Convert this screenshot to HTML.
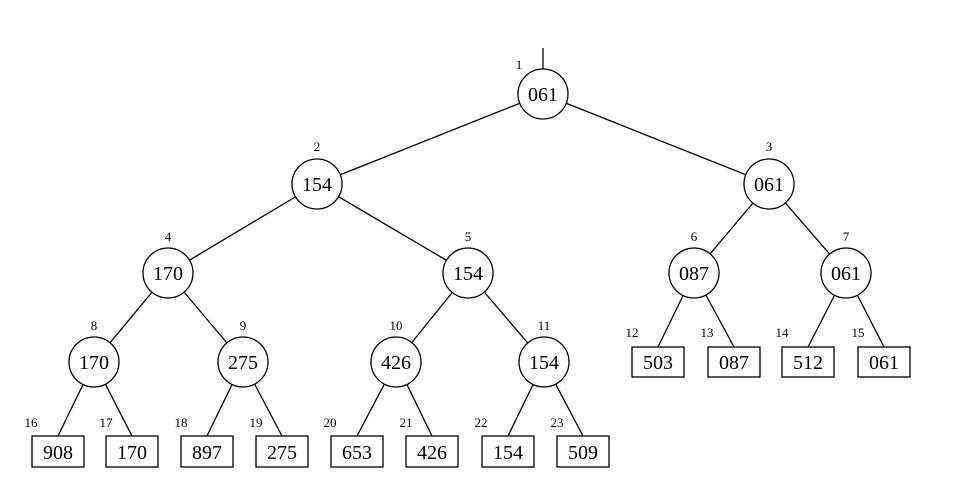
<!DOCTYPE html>
<html><head><meta charset="utf-8"><style>body{margin:0;background:#fff}svg{display:block}</style></head><body>
<svg width="960" height="492" viewBox="0 0 960 492" xmlns="http://www.w3.org/2000/svg" font-family="Liberation Serif, serif">
<g stroke="#000" stroke-width="1.3" fill="none">
<line x1="543" y1="48" x2="543" y2="70"/>
<line x1="543" y1="94" x2="317" y2="184"/>
<line x1="543" y1="94" x2="769" y2="184"/>
<line x1="317" y1="184" x2="168" y2="273"/>
<line x1="317" y1="184" x2="468" y2="273"/>
<line x1="769" y1="184" x2="694" y2="273"/>
<line x1="769" y1="184" x2="846" y2="273"/>
<line x1="168" y1="273" x2="94" y2="362"/>
<line x1="168" y1="273" x2="243" y2="362"/>
<line x1="468" y1="273" x2="396" y2="362"/>
<line x1="468" y1="273" x2="544" y2="362"/>
<line x1="694" y1="273" x2="658" y2="347"/>
<line x1="694" y1="273" x2="734" y2="347"/>
<line x1="846" y1="273" x2="808" y2="347"/>
<line x1="846" y1="273" x2="884" y2="347"/>
<line x1="94" y1="362" x2="58" y2="436"/>
<line x1="94" y1="362" x2="132" y2="436"/>
<line x1="243" y1="362" x2="207" y2="436"/>
<line x1="243" y1="362" x2="282" y2="436"/>
<line x1="396" y1="362" x2="357" y2="436"/>
<line x1="396" y1="362" x2="432" y2="436"/>
<line x1="544" y1="362" x2="508" y2="436"/>
<line x1="544" y1="362" x2="583" y2="436"/>
</g>
<g stroke="#000" stroke-width="1.3" fill="#fff">
<circle cx="543" cy="94" r="25"/><circle cx="317" cy="184" r="25"/><circle cx="769" cy="184" r="25"/>
<circle cx="168" cy="273" r="25"/><circle cx="468" cy="273" r="25"/><circle cx="694" cy="273" r="25"/><circle cx="846" cy="273" r="25"/>
<circle cx="94" cy="362" r="25"/><circle cx="243" cy="362" r="25"/><circle cx="396" cy="362" r="25"/><circle cx="544" cy="362" r="25"/>
<rect x="632" y="347" width="52" height="30"/><rect x="708" y="347" width="52" height="30"/><rect x="782" y="347" width="52" height="30"/><rect x="858" y="347" width="52" height="30"/>
<rect x="32" y="436" width="52" height="31"/><rect x="106" y="436" width="52" height="31"/><rect x="181" y="436" width="52" height="31"/><rect x="256" y="436" width="52" height="31"/>
<rect x="331" y="436" width="52" height="31"/><rect x="406" y="436" width="52" height="31"/><rect x="482" y="436" width="52" height="31"/><rect x="557" y="436" width="52" height="31"/>
</g>
<g font-size="20" text-anchor="middle" fill="#000">
<text x="543" y="101">061</text><text x="317" y="191">154</text><text x="769" y="191">061</text>
<text x="168" y="280">170</text><text x="468" y="280">154</text><text x="694" y="280">087</text><text x="846" y="280">061</text>
<text x="94" y="369">170</text><text x="243" y="369">275</text><text x="396" y="369">426</text><text x="544" y="369">154</text>
<text x="658" y="369">503</text><text x="734" y="369">087</text><text x="808" y="369">512</text><text x="884" y="369">061</text>
<text x="58" y="459">908</text><text x="132" y="459">170</text><text x="207" y="459">897</text><text x="282" y="459">275</text>
<text x="357" y="459">653</text><text x="432" y="459">426</text><text x="508" y="459">154</text><text x="583" y="459">509</text>
</g>
<g font-size="13" text-anchor="middle" fill="#000">
<text x="519" y="69">1</text><text x="317" y="151">2</text><text x="769" y="151">3</text>
<text x="168" y="241">4</text><text x="468" y="241">5</text><text x="694" y="241">6</text><text x="846" y="241">7</text>
<text x="94" y="330">8</text><text x="243" y="330">9</text><text x="396" y="330">10</text><text x="544" y="330">11</text>
<text x="632" y="337">12</text><text x="707" y="337">13</text><text x="782" y="337">14</text><text x="858" y="337">15</text>
<text x="31" y="427">16</text><text x="106" y="427">17</text><text x="181" y="427">18</text><text x="256" y="427">19</text>
<text x="330" y="427">20</text><text x="406" y="427">21</text><text x="481" y="427">22</text><text x="557" y="427">23</text>
</g>
</svg>
</body></html>
